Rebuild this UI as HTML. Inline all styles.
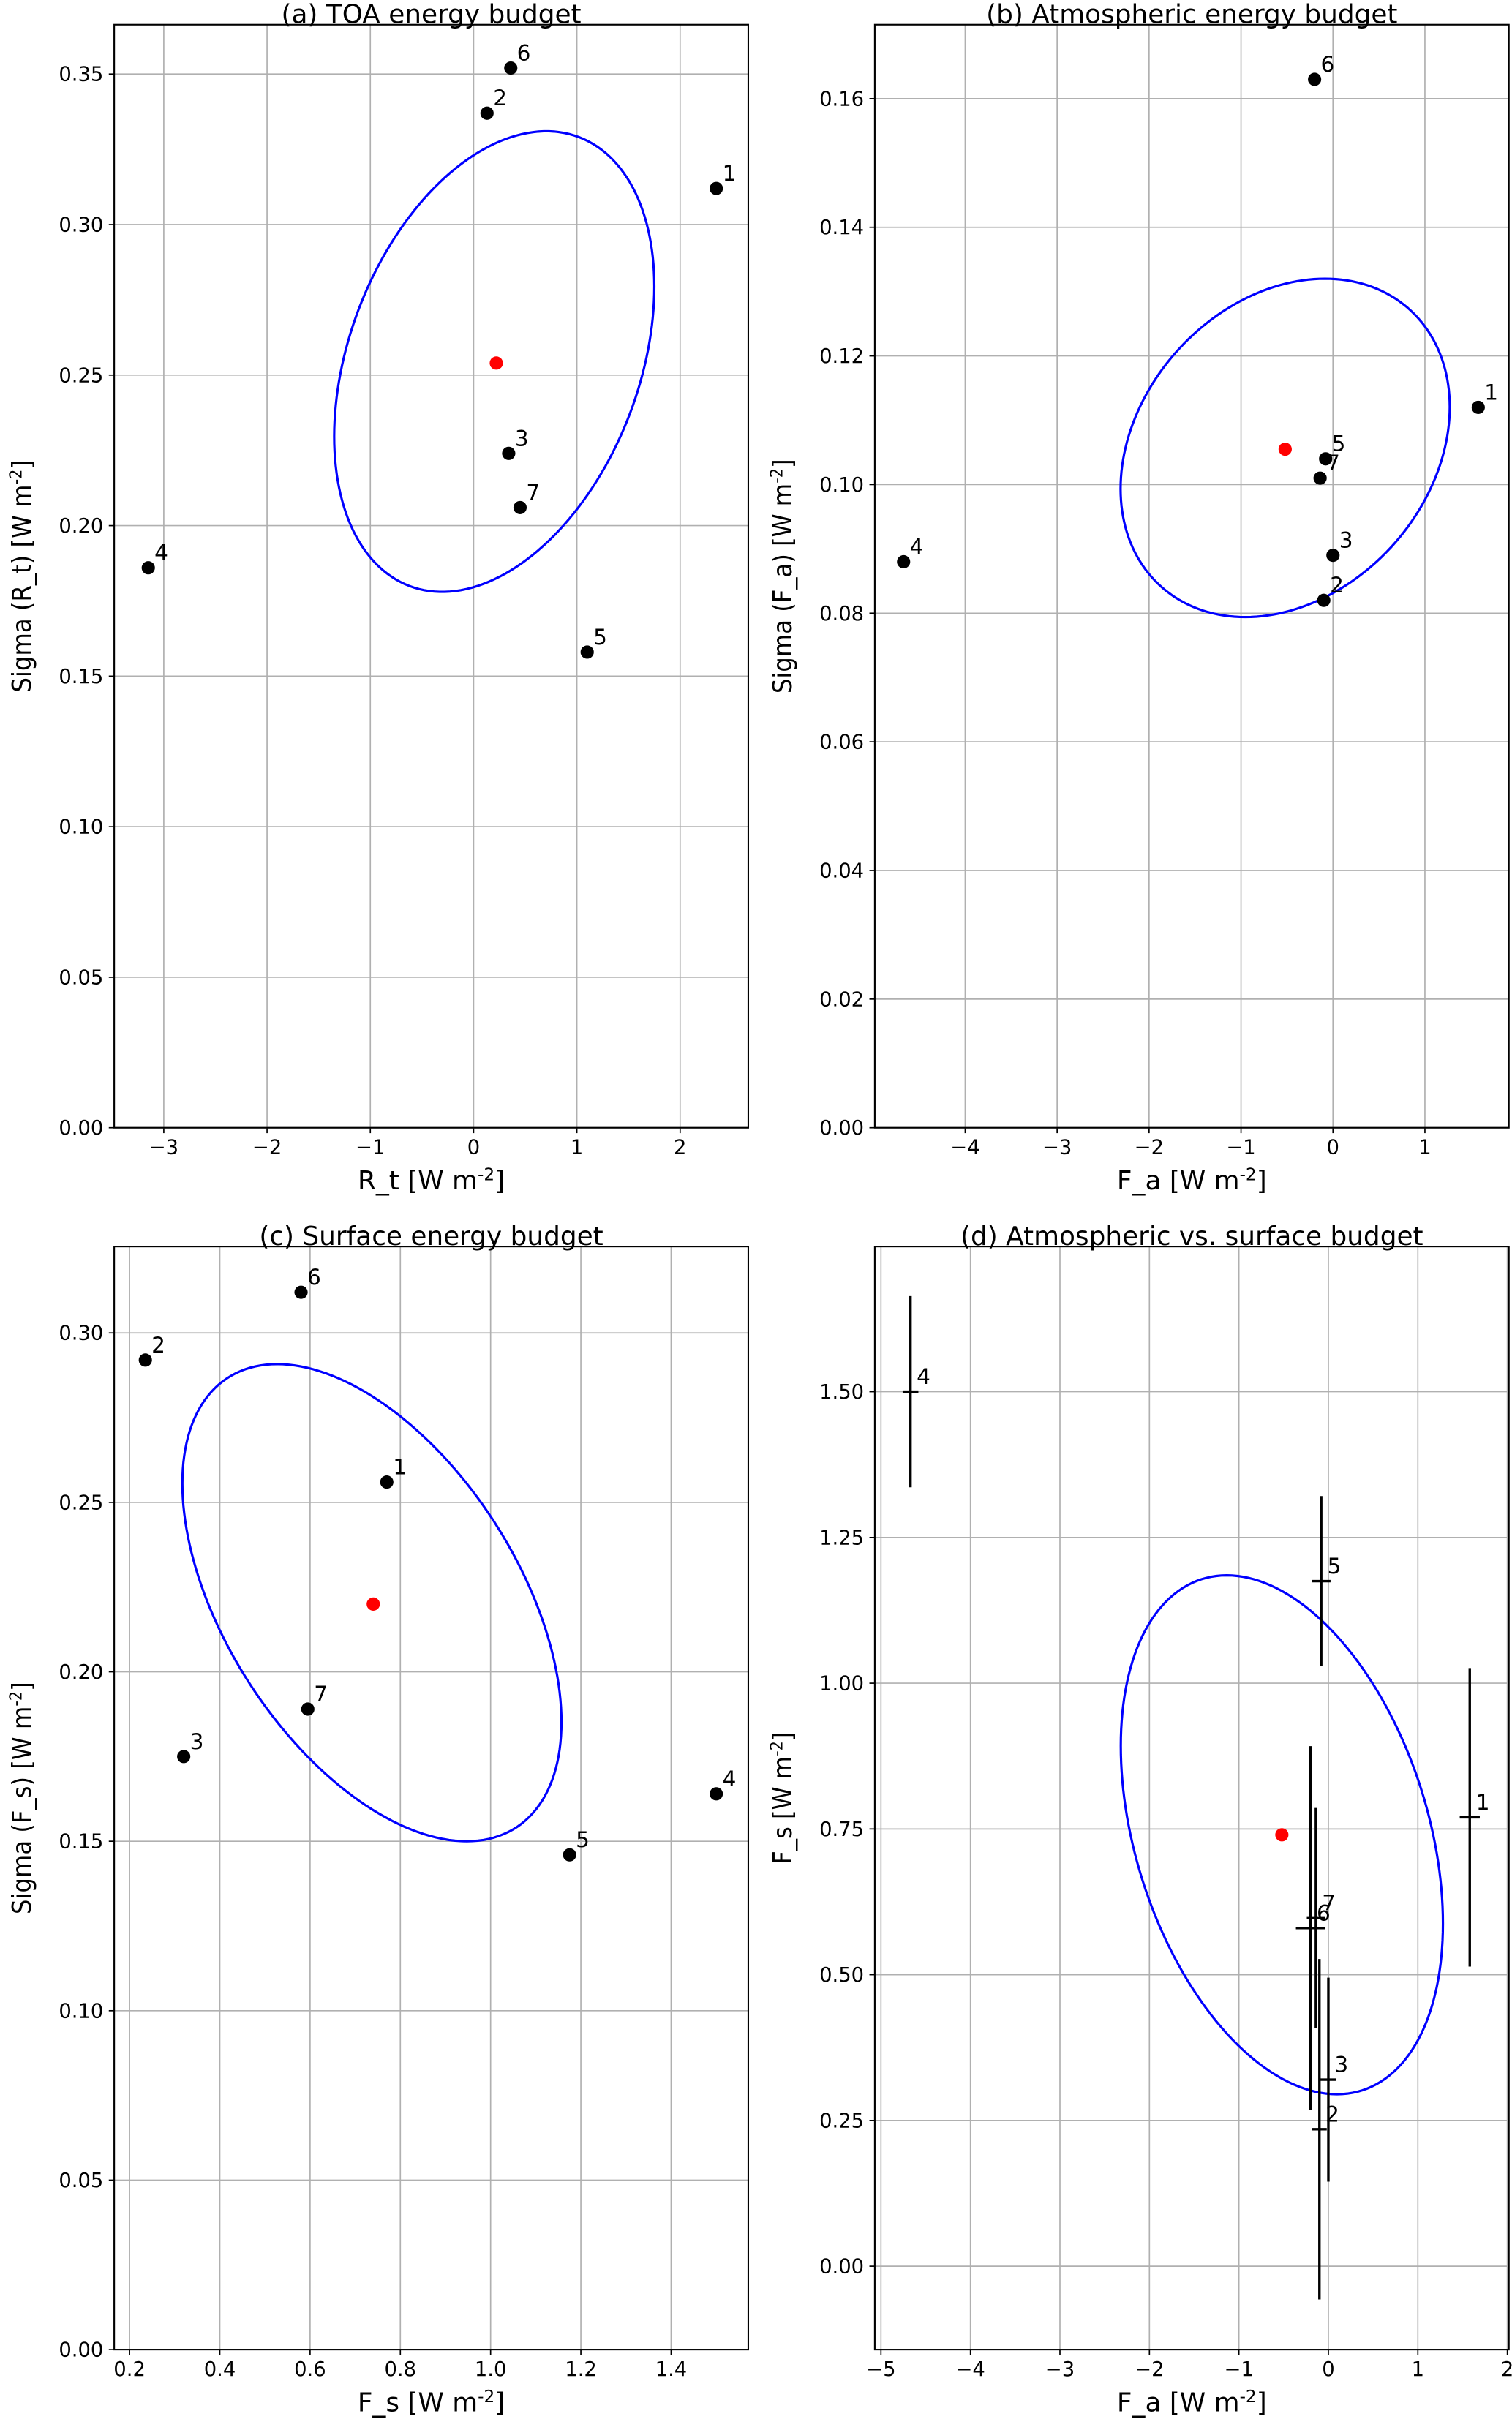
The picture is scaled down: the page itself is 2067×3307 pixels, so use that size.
<!DOCTYPE html>
<html><head><meta charset="utf-8"><style>
html,body{margin:0;padding:0;background:#fff;}
svg{display:block;}
text{font-family:"DejaVu Sans","Liberation Sans",sans-serif;fill:#000;}
</style></head><body>
<svg id="fig" width="2067" height="3307" viewBox="0 0 980 1568" xmlns="http://www.w3.org/2000/svg"></svg>
<script>
// Panel (a) TOA
const aLabels = ["1","2","3","4","5","6","7"];
const aX = [2.35, 0.13, 0.34, -3.15, 1.10, 0.36, 0.45];
const aY = [0.312, 0.337, 0.224, 0.186, 0.158, 0.352, 0.206];
const aMean = [0.22, 0.254];
const aEll = [0.20, 0.2545, 1.55, 0.0765, 71];
const aXTicks = [-3,-2,-1,0,1,2];
const aYTicks = [0,0.05,0.10,0.15,0.20,0.25,0.30,0.35];
// Panel (b) atmosphere
const bX = [1.58, -0.10, 0.00, -4.67, -0.08, -0.20, -0.14];
const bY = [0.112, 0.082, 0.089, 0.088, 0.104, 0.163, 0.101];
const bMean = [-0.52, 0.1055];
const bEll = [-0.52, 0.1057, 1.79, 0.0263, 76];
const bXTicks = [-4,-3,-2,-1,0,1];
const bYTicks = [0,0.02,0.04,0.06,0.08,0.10,0.12,0.14,0.16];
// Panel (c) surface
const cX = [0.77, 0.235, 0.32, 1.50, 1.175, 0.58, 0.595];
const cY = [0.256, 0.292, 0.175, 0.164, 0.146, 0.312, 0.189];
const cMean = [0.74, 0.22];
const cEll = [0.737, 0.2204, 0.42, 0.0704, 120];
const cXTicks = [0.2,0.4,0.6,0.8,1.0,1.2,1.4];
const cYTicks = [0,0.05,0.10,0.15,0.20,0.25,0.30];
// Panel (d) atmosphere vs surface
const dX = [1.58, -0.10, 0.00, -4.67, -0.08, -0.20, -0.14];
const dY = [0.77, 0.235, 0.32, 1.50, 1.175, 0.58, 0.597];
const dXErr = [0.112, 0.082, 0.089, 0.088, 0.104, 0.163, 0.101];
const dYErr = [0.256, 0.292, 0.175, 0.164, 0.146, 0.312, 0.189];
const dMean = [-0.52, 0.74];
const dEll = [-0.52, 0.74, 1.80, 0.445, 110];
const dXTicks = [-5,-4,-3,-2,-1,0,1,2];
const dYTicks = [0,0.25,0.5,0.75,1.0,1.25,1.5];

const NS = "http://www.w3.org/2000/svg";
const svg = document.getElementById('fig');
function mk(tag, attrs, parent){const e=document.createElementNS(NS,tag);for(const k in attrs)e.setAttribute(k,attrs[k]);(parent||svg).appendChild(e);return e;}

function panel(o){
  const g = mk('g',{});
  
  
  const sx = v => o.L + (v - o.x0)/(o.x1 - o.x0)*(o.R - o.L);
  const sy = v => o.B - (v - o.y0)/(o.y1 - o.y0)*(o.B - o.T);
  // grid + ticks
  o.xt.forEach(t=>{
    const x = sx(t);
    const gl = mk('line',{x1:x,x2:x,y1:o.T,y2:o.B,stroke:'#b0b0b0','stroke-width':0.8},g);
    
    
    mk('line',{x1:x,x2:x,y1:o.B,y2:o.B+3.5,stroke:'#000','stroke-width':0.8},g);
    const tx = mk('text',{x:x,y:o.B+17,'font-size':13,'text-anchor':'middle'},g);
    tx.textContent = o.xf(t).replace('-','\u2212');
    
    
  });
  o.yt.forEach(t=>{
    const y = sy(t);
    const gl = mk('line',{x1:o.L,x2:o.R,y1:y,y2:y,stroke:'#b0b0b0','stroke-width':0.8},g);
    
    
    mk('line',{x1:o.L-3.5,x2:o.L,y1:y,y2:y,stroke:'#000','stroke-width':0.8},g);
    const tx = mk('text',{x:o.L-7,y:y+4.5,'font-size':13,'text-anchor':'end'},g);
    tx.textContent = o.yf(t).replace('-','\u2212');
    
    
  });
  // ellipse
  const [cx,cy,ax,ay,ph] = o.ell;
  let d='';
  for(let i=0;i<=180;i++){const t=i/180*2*Math.PI;const X=sx(cx+ax*Math.cos(t)),Y=sy(cy+ay*Math.cos(t-ph*Math.PI/180));d+=(i?'L':'M')+X.toFixed(2)+','+Y.toFixed(2);}
  const el = mk('path',{d:d,fill:'none',stroke:'#0000ff','stroke-width':1.5},g);
  
  
  // points
  o.px.forEach((v,i)=>{
    const X=sx(v),Y=sy(o.py[i]);
    if(o.err){
      const ev = mk('line',{x1:X,x2:X,y1:sy(o.py[i]-o.ye[i]),y2:sy(o.py[i]+o.ye[i]),stroke:'#000','stroke-width':1.6},g);
      
      
      const eh = mk('line',{x1:sx(v-o.xe[i]),x2:sx(v+o.xe[i]),y1:Y,y2:Y,stroke:'#000','stroke-width':1.6},g);
      
      
    } else {
      const c = mk('circle',{cx:X,cy:Y,r:4.3,fill:'#000'},g);
      
      
    }
    const lb = mk('text',{x:X+4,y:Y-5,'font-size':14},g);
    lb.textContent = aLabels[i];
    
    
  });
  const m = mk('circle',{cx:sx(o.mean[0]),cy:sy(o.mean[1]),r:4.3,fill:'#ff0000'},g);
  
  
  // frame
  mk('rect',{x:o.L,y:o.T,width:o.R-o.L,height:o.B-o.T,fill:'none',stroke:'#000','stroke-width':1},g);
  const ti = mk('text',{x:(o.L+o.R)/2,y:o.T-1,'font-size':17,'text-anchor':'middle'},g);
  ti.textContent = o.title;
  
  
  const xl = mk('text',{x:(o.L+o.R)/2,y:o.B+40,'font-size':17,'text-anchor':'middle'},g);
  xl.innerHTML = o.xlab + ' [W m<tspan dy="-6" font-size="11">-2</tspan><tspan dy="6">]</tspan>';
  
  
  const ym = (o.T+o.B)/2;
  const yl = mk('text',{x:0,y:0,'font-size':17,'text-anchor':'middle',transform:`translate(${o.ylx},${ym}) rotate(-90)`,style:'font-family:"Liberation Sans Narrow","DejaVu Sans Condensed","Liberation Sans",sans-serif'},g);
  yl.innerHTML = o.ylab + ' [W m<tspan dy="-6" font-size="11">-2</tspan><tspan dy="6">]</tspan>';
  
  
}
const f2 = v=>v.toFixed(2), f0=v=>String(v), f1=v=>v.toFixed(1);
panel({name:'panel-a-toa',L:74,R:485,T:16,B:731,x0:-3.48,x1:2.66,y0:0,y1:0.3664,xt:aXTicks,yt:aYTicks,xf:f0,yf:f2,px:aX,py:aY,mean:aMean,ell:aEll,title:'(a) TOA energy budget',xlab:'R_t',ylab:'Sigma (R_t)',ylx:20});
panel({name:'panel-b-atmosphere',L:567,R:978,T:16,B:731,x0:-4.983,x1:1.913,y0:0,y1:0.1715,xt:bXTicks,yt:bYTicks,xf:f0,yf:f2,px:bX,py:bY,mean:bMean,ell:bEll,title:'(b) Atmospheric energy budget',xlab:'F_a',ylab:'Sigma (F_a)',ylx:513});
panel({name:'panel-c-surface',L:74,R:485,T:808,B:1523,x0:0.166,x1:1.571,y0:0,y1:0.3255,xt:cXTicks,yt:cYTicks,xf:f1,yf:f2,px:cX,py:cY,mean:cMean,ell:cEll,title:'(c) Surface energy budget',xlab:'F_s',ylab:'Sigma (F_s)',ylx:20});
panel({name:'panel-d-atm-vs-surface',L:567,R:978,T:808,B:1523,x0:-5.069,x1:2.017,y0:-0.143,y1:1.749,xt:dXTicks,yt:dYTicks,xf:f0,yf:f2,px:dX,py:dY,xe:dXErr,ye:dYErr,err:true,mean:dMean,ell:dEll,title:'(d) Atmospheric vs. surface budget',xlab:'F_a',ylab:'F_s',ylx:513});
</script>
</body></html>
